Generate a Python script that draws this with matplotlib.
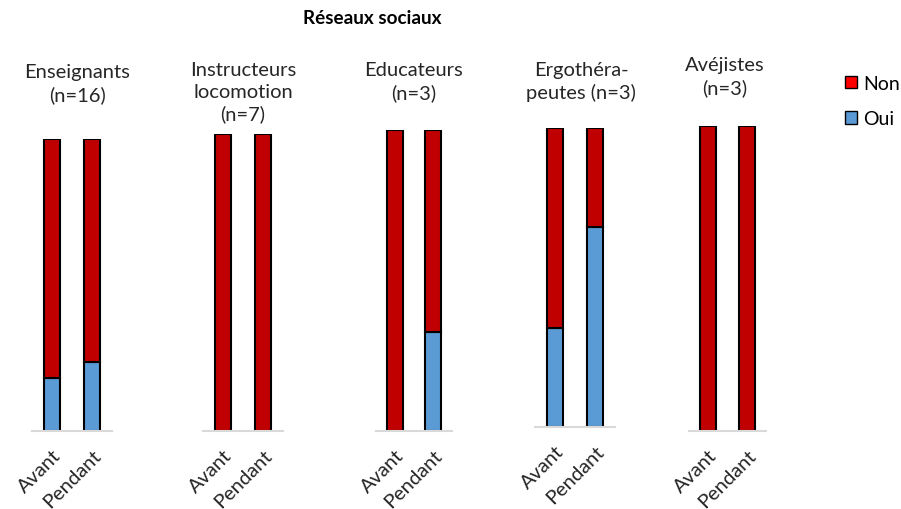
import numpy as np
import matplotlib
matplotlib.use("Agg")
import matplotlib.pyplot as plt
from matplotlib.patches import Patch

# Data (share of answers)
groupes = ["Enseignants\n(n=16)", "Instructeurs\nlocomotion\n(n=7)",
           "Educateurs\n(n=3)", "Ergothéra-\npeutes (n=3)", "Avéjistes\n(n=3)"]
periodes = ["Avant", "Pendant"]
oui_avant = [0.18, 0.0, 0.0, 0.33, 0.0]
oui_pendant = [0.235, 0.0, 0.33, 0.67, 0.0]
non_avant = [1 - v for v in oui_avant]
non_pendant = [1 - v for v in oui_pendant]

W, H = 901, 510
plt.rcParams['font.family'] = ['Lato', 'DejaVu Sans']

# panel boxes in pixels: left, right, top, bottom
boxes = [(32, 112, 140, 432), (203, 283, 135, 432), (376, 452, 131, 432),
         (535, 615, 129, 428), (689, 766, 127, 432)]
# title block centre (pixels)
title_pos = [(77, 84), (243, 93), (414, 82), (581, 82), (725, 77)]

col_non = "#C00000"
col_oui = "#5B9BD5"

fig = plt.figure(figsize=(W / 100, H / 100), dpi=100)

for i, (l, r, t, b) in enumerate(boxes):
    ax = fig.add_axes([l / W, 1 - b / H, (r - l) / W, (b - t) / H])
    x = np.arange(len(periodes))
    oui = [oui_avant[i], oui_pendant[i]]
    non = [non_avant[i], non_pendant[i]]
    ax.bar(x, oui, width=0.42, color=col_oui, edgecolor="black", linewidth=1.5)
    ax.bar(x, non, bottom=oui, width=0.42, color=col_non, edgecolor="black",
           linewidth=1.5)
    ax.set_xlim(-0.5, 1.5)
    ax.set_ylim(0, 1.0)
    for s in ["top", "right", "left"]:
        ax.spines[s].set_visible(False)
    ax.spines["bottom"].set_color("#D9D9D9")
    ax.spines["bottom"].set_linewidth(1.5)
    ax.set_yticks([])
    ax.set_xticks(x)
    ax.set_xticklabels(periodes, rotation=45, ha="right", rotation_mode="anchor",
                       fontsize=14.5, color="#262626")
    ax.tick_params(axis="x", length=0, pad=11)
    cx, cy = title_pos[i]
    fig.text(cx / W, 1 - cy / H, groupes[i], ha="center", va="center",
             fontsize=14.5, color="#262626", linespacing=1.32)

fig.text(372 / W, 1 - 18 / H, "Réseaux sociaux", ha="center", va="center",
         fontsize=13.6, fontweight="bold", color="black")

handles = [Patch(facecolor="#FF0000", edgecolor="black", label="Non"),
           Patch(facecolor=col_oui, edgecolor="black", label="Oui")]
fig.legend(handles=handles, loc="upper left", bbox_to_anchor=(845 / W, 1 - 76 / H),
           frameon=False, fontsize=14, handlelength=0.62, handleheight=0.62,
           handletextpad=0.3, labelspacing=0.95, borderpad=0, borderaxespad=0)

fig.savefig("out.png", dpi=100)
